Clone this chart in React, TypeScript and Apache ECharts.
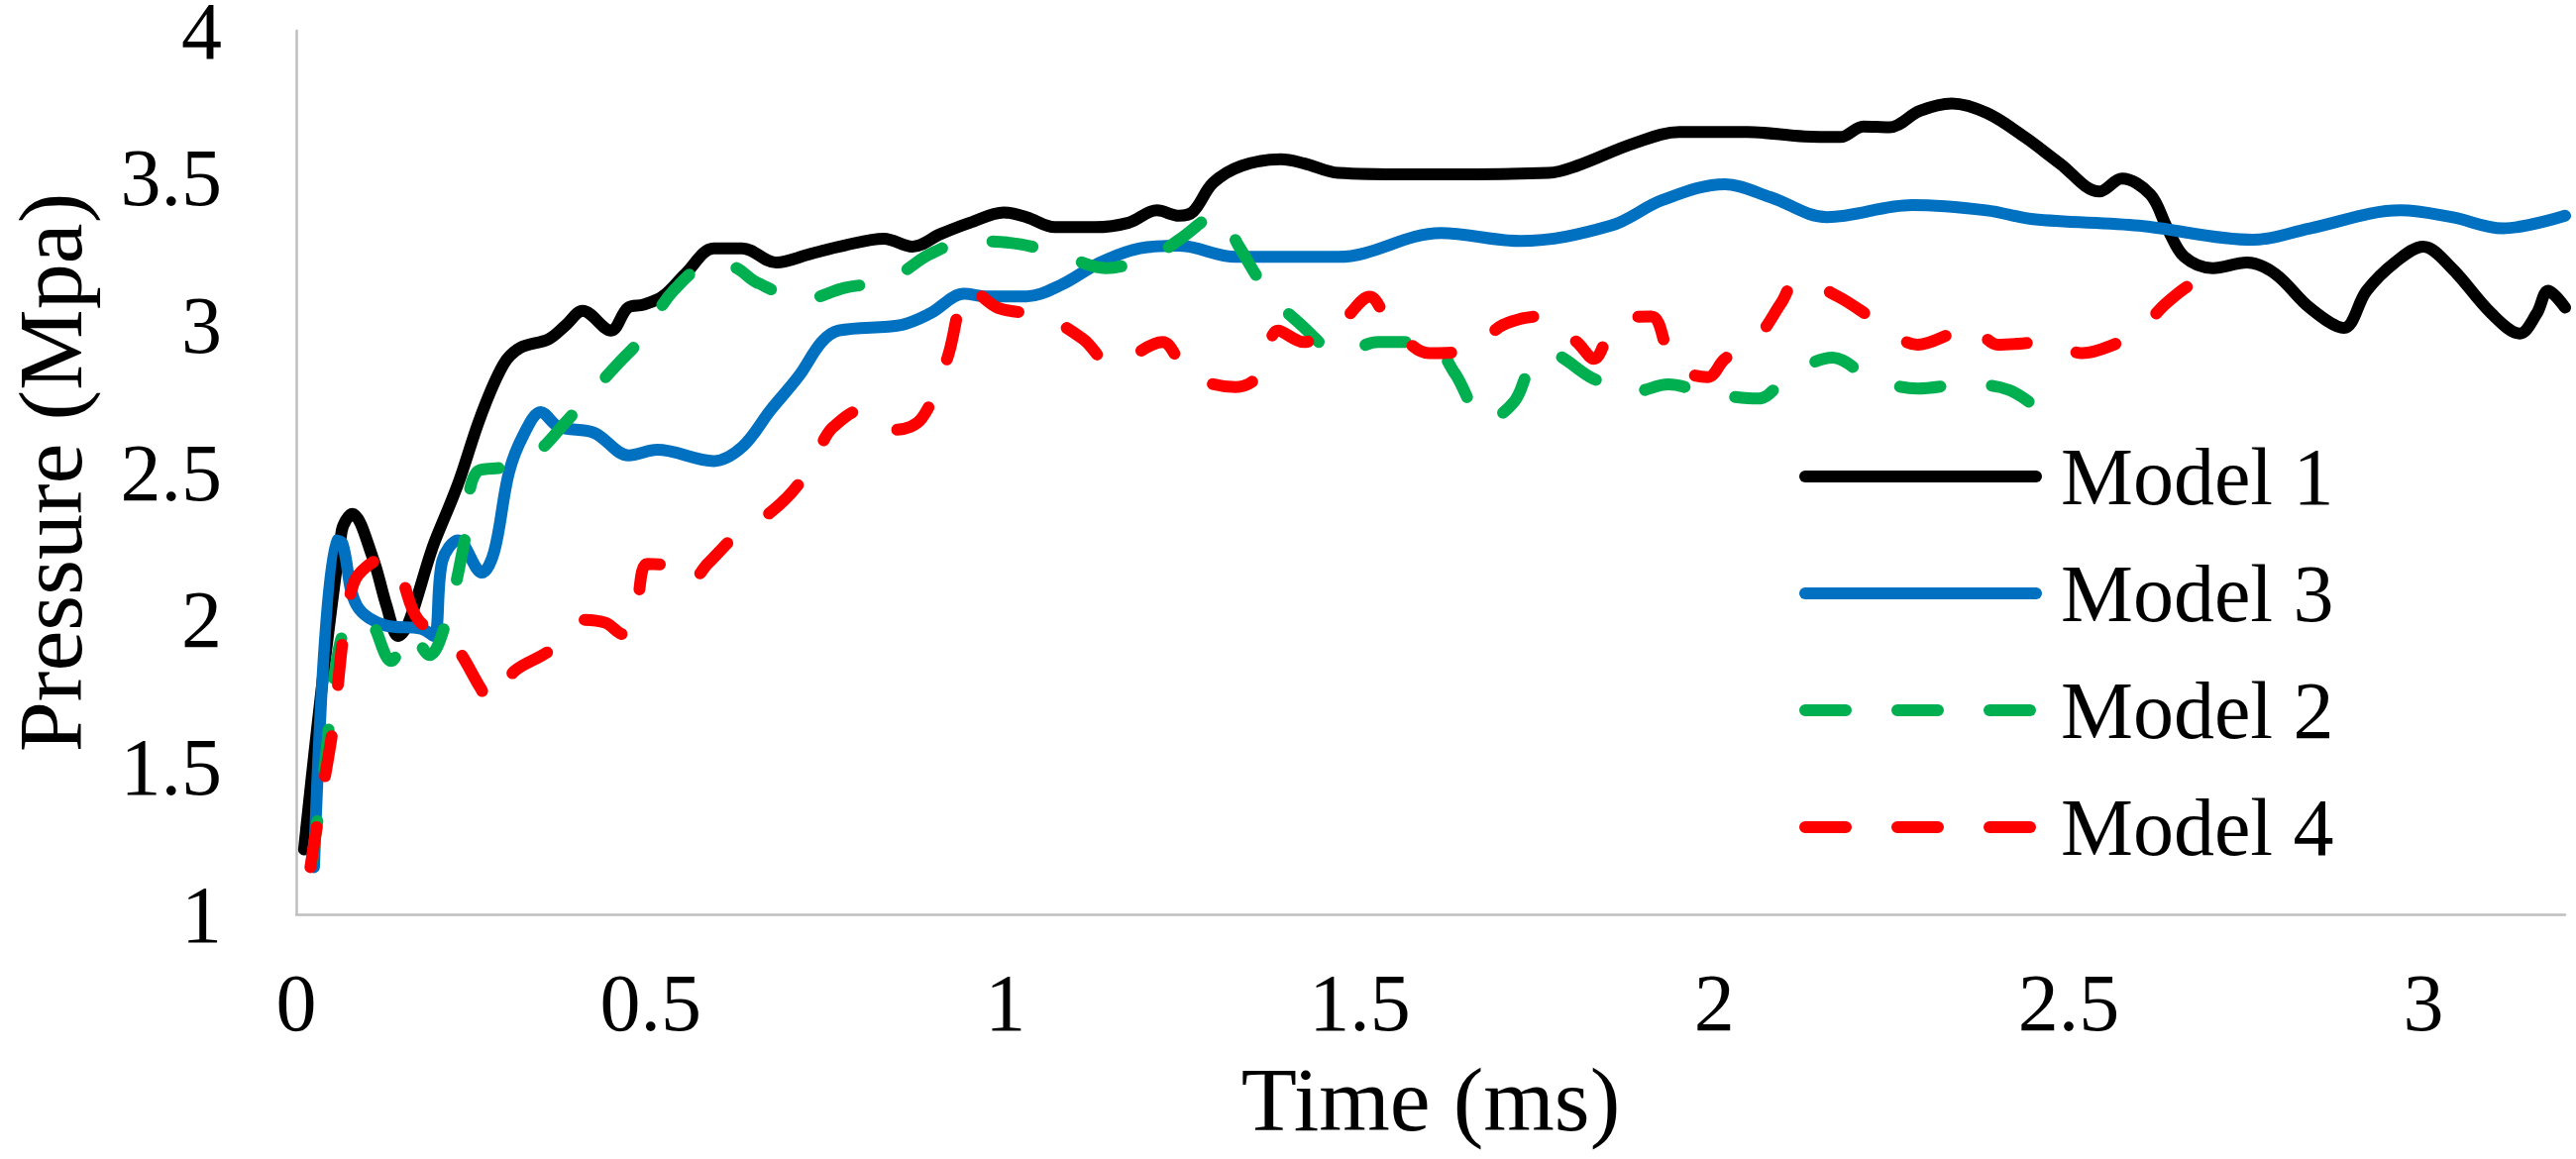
import React, { useEffect, useRef } from "react";
import * as echarts from "echarts";

// Time (ms) / Pressure (MPa) pairs
const model1Data: [number, number][] = [
  [0.011, 1.22], [0.064, 2.3], [0.079, 2.36], [0.108, 2.21], [0.127, 2.05], [0.143, 1.945],
  [0.196, 2.27], [0.228, 2.46], [0.26, 2.69], [0.292, 2.866], [0.316, 2.924], [0.356, 2.953],
  [0.38, 3.0], [0.404, 3.049], [0.444, 2.982], [0.468, 3.06], [0.49, 3.07], [0.517, 3.098],
  [0.549, 3.175], [0.589, 3.261], [0.629, 3.261], [0.677, 3.213], [0.725, 3.242], [0.773, 3.271],
  [0.829, 3.294], [0.869, 3.267], [0.909, 3.31], [0.95, 3.348], [0.998, 3.383], [1.03, 3.367],
  [1.07, 3.333], [1.126, 3.333], [1.174, 3.348], [1.214, 3.39], [1.245, 3.372], [1.265, 3.386],
  [1.293, 3.483], [1.333, 3.541], [1.389, 3.564], [1.421, 3.55], [1.47, 3.517], [1.566, 3.512],
  [1.766, 3.517], [1.806, 3.541], [1.887, 3.618], [1.951, 3.656], [2.047, 3.656], [2.127, 3.641],
  [2.178, 3.639], [2.21, 3.675], [2.247, 3.672], [2.29, 3.728], [2.335, 3.753], [2.385, 3.72],
  [2.439, 3.637], [2.487, 3.55], [2.543, 3.454], [2.575, 3.498], [2.615, 3.444], [2.639, 3.329],
  [2.663, 3.232], [2.703, 3.194], [2.751, 3.213], [2.791, 3.175], [2.84, 3.059], [2.888, 2.991],
  [2.92, 3.117], [2.96, 3.213], [3.0, 3.267], [3.04, 3.194], [3.096, 3.04], [3.136, 2.972],
  [3.16, 3.04], [3.176, 3.117], [3.2, 3.06],
];

const model3Data: [number, number][] = [
  [0.025, 1.16], [0.055, 2.27], [0.065, 2.26], [0.085, 2.05], [0.127, 1.98], [0.176, 1.97],
  [0.194, 1.945], [0.206, 2.2], [0.228, 2.27], [0.262, 2.16], [0.279, 2.23], [0.3, 2.5],
  [0.321, 2.63], [0.345, 2.705], [0.37, 2.655], [0.42, 2.635], [0.469, 2.558], [0.509, 2.577],
  [0.589, 2.539], [0.629, 2.587], [0.669, 2.712], [0.709, 2.828], [0.741, 2.943], [0.765, 2.982],
  [0.853, 3.001], [0.894, 3.04], [0.942, 3.107], [0.974, 3.098], [1.03, 3.098], [1.078, 3.136],
  [1.134, 3.213], [1.19, 3.261], [1.245, 3.27], [1.325, 3.232], [1.47, 3.232], [1.614, 3.313],
  [1.726, 3.286], [1.854, 3.338], [1.927, 3.425], [2.015, 3.479], [2.079, 3.435], [2.159, 3.367],
  [2.279, 3.408], [2.384, 3.39], [2.45, 3.36], [2.599, 3.338], [2.76, 3.29], [2.84, 3.329],
  [2.968, 3.39], [3.04, 3.367], [3.112, 3.329], [3.2, 3.372],
];

const model2Data: [number, number][] = [
  [0.022, 1.18], [0.04, 1.5], [0.06, 1.9], [0.08, 2.0], [0.1, 2.0], [0.134, 1.86], [0.16, 1.96],
  [0.188, 1.88], [0.212, 2.0], [0.236, 2.25], [0.254, 2.5], [0.297, 2.52], [0.34, 2.57],
  [0.376, 2.66], [0.42, 2.78], [0.454, 2.87], [0.485, 2.95], [0.533, 3.12], [0.589, 3.213],
  [0.621, 3.194], [0.649, 3.146], [0.717, 3.088], [0.773, 3.127], [0.837, 3.155], [0.894, 3.242],
  [0.95, 3.286], [1.022, 3.275], [1.086, 3.232], [1.142, 3.194], [1.214, 3.242], [1.245, 3.29],
  [1.301, 3.377], [1.329, 3.27], [1.369, 3.117], [1.413, 3.011], [1.474, 2.905], [1.526, 2.943],
  [1.598, 2.943], [1.634, 2.837], [1.678, 2.674], [1.718, 2.741], [1.742, 2.866], [1.766, 2.905],
  [1.83, 2.818], [1.886, 2.774], [1.935, 2.799], [1.991, 2.77], [2.063, 2.751], [2.103, 2.824],
  [2.167, 2.89], [2.219, 2.824], [2.287, 2.785], [2.352, 2.799], [2.416, 2.78], [2.468, 2.693],
];

const model4Data: [number, number][] = [
  [0.02, 1.16], [0.034, 1.374], [0.053, 1.654], [0.067, 1.956], [0.081, 2.124], [0.099, 2.18],
  [0.127, 2.213], [0.146, 2.157], [0.172, 2.0], [0.22, 1.922], [0.26, 1.768], [0.272, 1.72],
  [0.308, 1.826], [0.356, 1.893], [0.404, 2.0], [0.436, 1.99], [0.461, 1.951], [0.477, 2.0],
  [0.495, 2.19], [0.525, 2.182], [0.553, 2.124], [0.581, 2.192], [0.629, 2.307], [0.669, 2.365],
  [0.709, 2.462], [0.741, 2.597], [0.757, 2.654], [0.797, 2.712], [0.845, 2.645], [0.882, 2.683],
  [0.918, 2.886], [0.95, 3.127], [0.99, 3.059], [1.054, 3.03], [1.11, 2.953], [1.15, 2.866],
  [1.222, 2.943], [1.245, 2.88], [1.261, 2.828], [1.325, 2.79], [1.357, 2.828], [1.385, 2.982],
  [1.421, 2.943], [1.474, 3.011], [1.514, 3.097], [1.542, 3.011], [1.598, 2.905], [1.654, 2.915],
  [1.702, 3.001], [1.754, 3.03], [1.806, 2.943], [1.83, 2.886], [1.862, 3.011], [1.911, 3.03],
  [1.943, 2.866], [1.991, 2.824], [2.015, 2.886], [2.059, 2.953], [2.095, 3.078], [2.117, 3.155],
  [2.175, 3.097], [2.229, 3.014], [2.287, 2.934], [2.33, 2.968], [2.358, 3.005], [2.4, 2.934],
  [2.471, 2.943], [2.519, 2.905], [2.559, 2.93], [2.599, 2.982], [2.639, 3.078], [2.679, 3.146],
  [2.735, 3.175],
];

const seriesNames = ["Model 1", "Model 3", "Model 2", "Model 4"];
const seriesColors = ["#000000", "#0070C0", "#00B050", "#FF0000"];
const xTitle = "Time (ms)";
const yTitle = "Pressure (Mpa)";

const FONT = "'Liberation Serif', 'Times New Roman', serif";

export default function App() {
  const ref = useRef<HTMLDivElement>(null);

  useEffect(() => {
    if (!ref.current) return;
    const chart = echarts.init(ref.current, null, { renderer: "svg" });
    const dataSets = [model1Data, model3Data, model2Data, model4Data];
    const dashed = [false, false, true, true];

    chart.setOption({
      animation: false,
      backgroundColor: "#ffffff",
      grid: {
        left: 299,
        right: 11,
        top: 31,
        bottom: 247,
        containLabel: false,
        outerBoundsMode: "none",
      },
      legend: {
        orient: "vertical",
        left: 1816,
        top: 440,
        padding: 0,
        itemGap: 36,
        itemWidth: 233,
        itemHeight: 14,
        textStyle: {
          fontFamily: FONT,
          fontSize: 82,
          lineHeight: 82,
          color: "#000000",
          padding: [0, 0, 0, 20],
        },
        lineStyle: { width: 12 },
        itemStyle: { opacity: 0 },
        data: seriesNames,
      },
      xAxis: {
        type: "value",
        min: 0,
        max: 3.2,
        interval: 0.5,
        name: xTitle,
        nameLocation: "middle",
        nameGap: 141,
        nameMoveOverlap: false,
        nameTextStyle: { fontFamily: FONT, fontSize: 92, color: "#000000" },
        axisLine: { show: true, onZero: false, lineStyle: { color: "#BFBFBF", width: 2.5 } },
        axisTick: { show: false },
        splitLine: { show: false },
        axisLabel: {
          showMaxLabel: false,
          margin: 48,
          fontFamily: FONT,
          fontSize: 82,
          color: "#000000",
        },
      },
      yAxis: {
        type: "value",
        min: 1,
        max: 4,
        interval: 0.5,
        name: yTitle,
        nameLocation: "middle",
        nameGap: 208,
        nameMoveOverlap: false,
        nameTextStyle: { fontFamily: FONT, fontSize: 92, lineHeight: 80, color: "#000000" },
        axisLine: { show: true, onZero: false, lineStyle: { color: "#BFBFBF", width: 2.5 } },
        axisTick: { show: false },
        splitLine: { show: false },
        axisLabel: {
          margin: 75,
          fontFamily: FONT,
          fontSize: 82,
          lineHeight: 60,
          color: "#000000",
        },
      },
      series: seriesNames.map((name, i) => ({
        name,
        type: "line",
        data: dataSets[i],
        symbol: "none",
        showSymbol: false,
        smooth: 0.35,
        clip: true,
        color: seriesColors[i],
        lineStyle: {
          color: seriesColors[i],
          width: 12,
          type: dashed[i] ? [41, 52] : "solid",
          cap: "round",
          join: "round",
        },
        emphasis: { disabled: true },
      })),
    });

    return () => chart.dispose();
  }, []);

  return (
    <div
      ref={ref}
      style={{ position: "fixed", left: 0, top: 0, width: 2600, height: 1170, background: "#fff" }}
    />
  );
}
